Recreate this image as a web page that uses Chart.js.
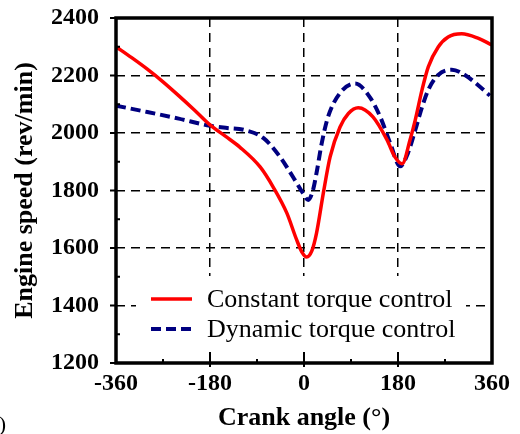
<!DOCTYPE html>
<html>
<head>
<meta charset="utf-8">
<script src="https://cdn.jsdelivr.net/npm/chart.js@4.4.1/dist/chart.umd.min.js"></script>
<style>
  html, body { margin: 0; padding: 0; background: #fff; }
  canvas { display: block; }
</style>
</head>
<body>
<canvas id="myChart" width="520" height="434"></canvas>
<script>
// crank angle (deg) and engine speed (rev/min)
var constantAngle = [-360, -330, -300, -270, -240, -210, -180, -150, -123, -84, -59, -33, -14, -4, 5, 15, 24, 37, 50, 69, 85, 104, 132, 159, 174, 188, 203, 213, 226, 238, 257, 276, 302, 333, 360];
var constantSpeed = [2300, 2262, 2222, 2178, 2130, 2080, 2028, 1988, 1951, 1882, 1812, 1722, 1628, 1586, 1569, 1590, 1652, 1791, 1917, 2021, 2068, 2088, 2056, 1976, 1917, 1893, 1976, 2045, 2150, 2230, 2299, 2334, 2345, 2330, 2306];

var dynamicAngle = [-360, -300, -240, -180, -150, -113, -78, -46, -21, -2, 8, 17, 24, 34, 46, 69, 98, 126, 146, 165, 184, 199, 213, 226, 238, 257, 283, 308, 333, 356];
var dynamicSpeed = [2095, 2073, 2050, 2025, 2018, 2010, 1983, 1917, 1847, 1791, 1767, 1800, 1861, 1965, 2056, 2139, 2172, 2125, 2056, 1965, 1884, 1930, 2010, 2090, 2150, 2202, 2220, 2202, 2167, 2130];

var seriesNames = ['Constant torque control', 'Dynamic torque control'];
var xRange = [-360, 360];
var yRange = [1200, 2400];

function toPoints(xs, ys) {
  return xs.map(function (x, i) { return { x: x, y: ys[i] }; });
}

var serif = "'Liberation Serif', 'Times New Roman', serif";

// white legend box inside the plot, plus frame and tick marks
var frame = {
  id: 'frame',
  beforeDatasetsDraw: function (chart) {
    var c = chart.ctx, a = chart.chartArea;
    c.save();
    c.fillStyle = '#fff';
    c.fillRect(a.left + 20, 276, 330, 76);
    c.font = 'normal 26px ' + serif;
    c.textBaseline = 'middle';
    c.fillStyle = '#000';
    chart.data.datasets.forEach(function (ds, i) {
      var y = 299 + i * 30;
      c.strokeStyle = ds.borderColor;
      c.lineWidth = ds.borderWidth;
      c.setLineDash(ds.borderDash || []);
      c.beginPath();
      c.moveTo(a.left + 35, y);
      c.lineTo(a.left + 76, y);
      c.stroke();
      c.fillText(ds.label, a.left + 91, y + 1);
    });
    c.restore();
  },
  afterDraw: function (chart) {
    var c = chart.ctx, a = chart.chartArea;
    var xs = chart.scales.x, ys = chart.scales.y;
    c.save();
    c.strokeStyle = '#000';
    c.setLineDash([]);
    c.lineWidth = 2;
    c.beginPath();
    [-180, 0, 180].forEach(function (v) {
      var p = xs.getPixelForValue(v);
      c.moveTo(p, a.bottom - 11); c.lineTo(p, a.bottom + 4);
    });
    [-270, -90, 90, 270].forEach(function (v) {
      var p = xs.getPixelForValue(v);
      c.moveTo(p, a.bottom - 4); c.lineTo(p, a.bottom);
    });
    for (var v = 1200; v <= 2400; v += 200) {
      var q = ys.getPixelForValue(v);
      c.moveTo(a.left - 6, q); c.lineTo(a.left, q);
    }
    for (var w = 1300; w < 2400; w += 200) {
      var r = ys.getPixelForValue(w);
      c.moveTo(a.left, r); c.lineTo(a.left + 4, r);
    }
    c.stroke();
    c.lineWidth = 3.5;
    c.strokeRect(a.left, a.top, a.right - a.left, a.bottom - a.top);
    // cut-off panel label at the bottom left
    c.font = 'normal 22px ' + serif;
    c.fillStyle = '#000';
    c.textAlign = 'right';
    c.textBaseline = 'alphabetic';
    c.fillText('(b)', 6, 431);
    c.restore();
  }
};

var ctx = document.getElementById('myChart').getContext('2d');
var chart = new Chart(ctx, {
  type: 'line',
  data: {
    datasets: [{
      label: seriesNames[0],
      data: toPoints(constantAngle, constantSpeed),
      borderColor: '#ff0000',
      borderWidth: 3.5,
      pointRadius: 0,
      cubicInterpolationMode: 'monotone'
    }, {
      label: seriesNames[1],
      data: toPoints(dynamicAngle, dynamicSpeed),
      borderColor: '#000080',
      borderWidth: 4,
      borderDash: [10, 5],
      pointRadius: 0,
      cubicInterpolationMode: 'monotone'
    }]
  },
  options: {
    responsive: false,
    animation: false,
    devicePixelRatio: 1,
    layout: { padding: { left: 0, top: 18, right: 28, bottom: 0 } },
    plugins: {
      legend: { display: false },
      tooltip: { enabled: false }
    },
    scales: {
      x: {
        type: 'linear',
        min: xRange[0],
        max: xRange[1],
        afterFit: function (s) { s.height = 71; s.paddingLeft = 0; s.paddingRight = 0; },
        ticks: {
          stepSize: 180,
          color: '#000',
          padding: 6,
          maxRotation: 0,
          callback: function (v) { return String(v); },
          font: { family: serif, size: 24, weight: 'bold' }
        },
        grid: { color: '#000', lineWidth: 1.5, drawTicks: false },
        border: { display: false, dash: [9, 6] },
        title: {
          display: true,
          text: 'Crank angle (°)',
          color: '#000',
          padding: { top: 0, bottom: 0 },
          font: { family: serif, size: 26, weight: 'bold' }
        }
      },
      y: {
        min: yRange[0],
        max: yRange[1],
        afterFit: function (s) { s.width = 116; s.paddingTop = 0; s.paddingBottom = 0; },
        ticks: {
          stepSize: 200,
          color: '#000',
          padding: 17,
          callback: function (v) { return String(v); },
          font: { family: serif, size: 24, weight: 'bold' }
        },
        grid: { color: '#000', lineWidth: 1.5, drawTicks: false },
        border: { display: false, dash: [9, 6] },
        title: {
          display: true,
          text: 'Engine speed (rev/min)',
          color: '#000',
          padding: { top: 10, bottom: 0 },
          font: { family: serif, size: 26, weight: 'bold' }
        }
      }
    }
  },
  plugins: [frame]
});
</script>
</body>
</html>
